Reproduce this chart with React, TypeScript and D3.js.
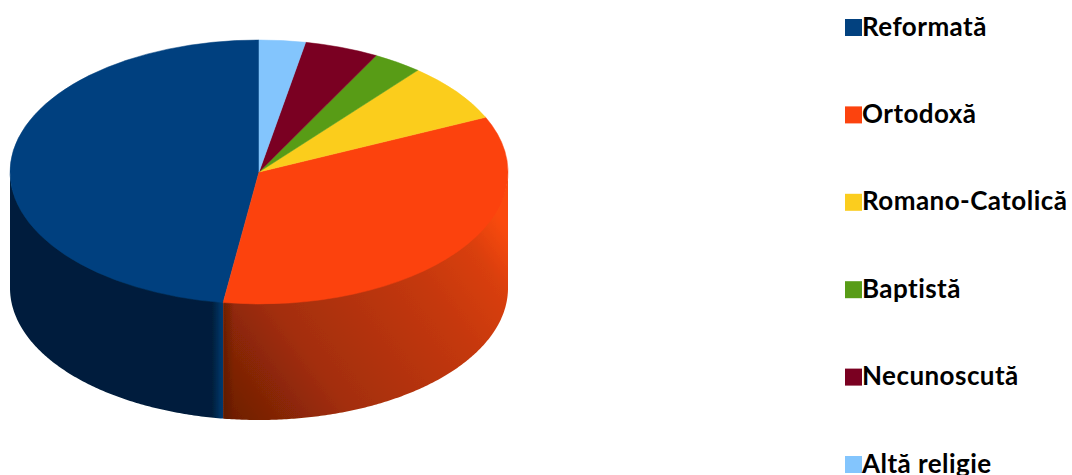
import * as d3 from 'd3';

const categories = ['Reformată', 'Ortodoxă', 'Romano-Catolică', 'Baptistă', 'Necunoscută', 'Altă religie'];
const shares = [47.7, 34.1, 7.2, 3.2, 4.8, 3.0];
const colors = ['#02417f', '#fc430e', '#fbcd1e', '#589c17', '#7a0021', '#83c5fd'];

// drawn clockwise from 12 o'clock, the reverse of the legend order
const sliceOrder = [5, 4, 3, 2, 1, 0];

const width = 1072;
const height = 475;
const cx = 259;
const cy = 172;
const rx = 249;
const ry = 132;
const depth = 116;

const legendY = d3.scalePoint<string>().domain(categories).range([27.5, 464.5]);

export default function App() {
  const pie = d3
    .pie<number>()
    .value(i => shares[i])
    .sort((a, b) => sliceOrder.indexOf(a) - sliceOrder.indexOf(b));
  const arcs = pie(categories.map((_, i) => i));
  const arc = d3.arc<d3.PieArcDatum<number>>().innerRadius(0).outerRadius(rx);

  // lower rim of the disc, only the front half (90deg..270deg) can be seen
  const wall = (start: number, end: number) => {
    const a0 = Math.max(start, Math.PI / 2);
    const a1 = Math.min(end, (3 * Math.PI) / 2);
    if (a1 <= a0) return null;
    const angles = d3.range(a0, a1, 0.01).concat(a1);
    const rim = angles.map(a => [cx + rx * Math.sin(a), cy - ry * Math.cos(a)] as [number, number]);
    // top edge goes 2px under the slices so no pale seam shows between them
    const top = rim.map(([x, y]) => [x, y - 2] as [number, number]);
    const bottom = rim.map(([x, y]) => [x, y + depth] as [number, number]).reverse();
    return d3.line()([...top, ...bottom]) + 'Z';
  };

  return (
    <svg
      width={width}
      height={height}
      style={{ position: 'absolute', left: 0, top: 0, background: '#fff' }}
    >
      <defs>
        <linearGradient id="wall-0" gradientUnits="userSpaceOnUse" x1={10} y1={0} x2={223} y2={0}>
          <stop offset="0" stopColor="#011f3c" />
          <stop offset="0.95" stopColor="#011f3c" />
          <stop offset="1" stopColor="#013a70" />
        </linearGradient>
        <linearGradient id="wall-1" gradientUnits="userSpaceOnUse" x1={235} y1={425} x2={508} y2={228}>
          <stop offset="0" stopColor="#6e1e04" />
          <stop offset="0.3" stopColor="#a32e09" />
          <stop offset="0.7" stopColor="#c5380c" />
          <stop offset="0.88" stopColor="#d93f0e" />
          <stop offset="1" stopColor="#fb4a10" />
        </linearGradient>
        <linearGradient id="seam" gradientUnits="userSpaceOnUse" x1={223} y1={0} x2={234} y2={0}>
          <stop offset="0" stopColor="#4a1503" stopOpacity={0.5} />
          <stop offset="1" stopColor="#4a1503" stopOpacity={0} />
        </linearGradient>
        <filter id="soft" x="-2%" y="-2%" width="104%" height="104%">
          <feGaussianBlur stdDeviation={0.5} />
        </filter>
      </defs>
      <g filter="url(#soft)">
        {arcs.map(d => {
          const path = wall(d.startAngle, d.endAngle);
          if (!path) return null;
          return (
            <g key={d.data}>
              <path d={path} fill={`url(#wall-${d.data})`} />
              {d.data === 1 && <path d={path} fill="url(#seam)" />}
            </g>
          );
        })}
        <g transform={`translate(${cx},${cy}) scale(1,${ry / rx})`}>
          {arcs.map(d => (
            <path
              key={d.data}
              d={arc(d) ?? ''}
              fill={colors[d.data]}
              stroke={colors[d.data]}
              strokeWidth={0.5}
              vectorEffect="non-scaling-stroke"
            />
          ))}
        </g>
      </g>
      {categories.map((name, i) => (
        <g key={name} transform={`translate(845,${legendY(name)})`}>
          <rect x={0} y={-8.5} width={17} height={17} fill={colors[i]} />
          <text
            x={17}
            y={8}
            fontFamily="Lato, sans-serif"
            fontWeight={700}
            fontSize={26}
            letterSpacing={0.45}
            fill="#000"
          >
            {name}
          </text>
        </g>
      ))}
    </svg>
  );
}
